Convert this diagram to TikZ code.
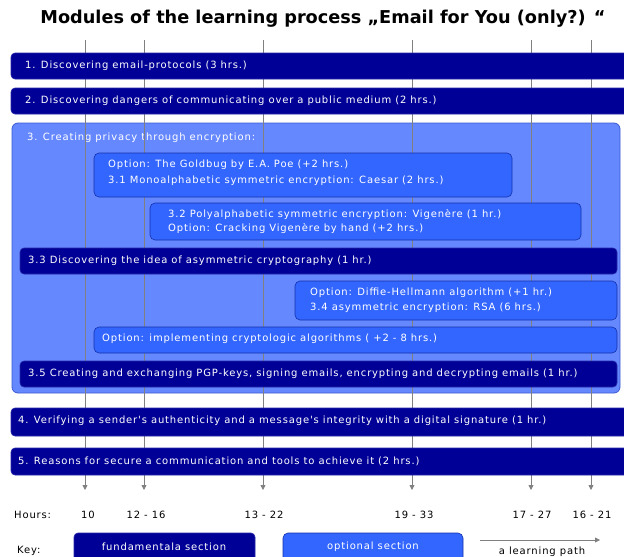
\documentclass[tikz,border=0pt]{standalone}
\usepackage{fontspec}
\setmainfont{DejaVu Sans}
\newfontfamily\bodyfont[LetterSpace=8.5]{DejaVu Sans}
\usetikzlibrary{arrows.meta}
\definecolor{navy}{RGB}{0,0,150}
\definecolor{navyedge}{RGB}{40,40,170}
\definecolor{optfill}{RGB}{51,102,255}
\definecolor{optedge}{RGB}{20,50,170}
\definecolor{lightfill}{RGB}{102,136,255}
\definecolor{lightedge}{RGB}{60,90,210}
\definecolor{pathgray}{RGB}{128,128,128}
\tikzset{
  fundbox/.style={draw=navyedge, fill=navy, rounded corners=4pt, line width=0.6pt},
  optbox/.style={draw=optedge, fill=optfill, rounded corners=5pt, line width=0.6pt},
  bigbox/.style={draw=lightedge, fill=lightfill, rounded corners=6pt, line width=0.8pt},
  wtxt/.style={text=white, anchor=west, inner sep=0pt, font=\bodyfont\fontsize{10}{12}\selectfont},
  btxt/.style={text=black, inner sep=0pt, font=\bodyfont\fontsize{10}{12}\selectfont},
  lpath/.style={draw=pathgray, line width=0.8pt, -{Triangle[width=5pt,length=5pt]}},
}
\begin{document}
\begin{tikzpicture}[x=1pt,y=-1pt]
\useasboundingbox (0,0) rectangle (624,557);
% title
\node[font=\bfseries\fontsize{17.7}{21}\selectfont, inner sep=0pt] (title) at (323,19) {Modules of the learning process „Email for You (only?) “};
% big box 3
\path[bigbox] (12,123) rectangle (620,393);
\node[wtxt] (t3) at (27,138) {3. Creating privacy through encryption:};
% learning paths
\foreach \x [count=\i] in {85,144,263,412,531,591}{
  \coordinate (s\i) at (\x,40);
  \coordinate (e\i) at (\x,490);
  \draw[lpath] (s\i) -- (e\i);
}
% fundamental boxes
\path[fundbox] (11,53) rectangle (628,79);
\node[wtxt] (t1) at (25,66) {1. Discovering email-protocols (3 hrs.)};
\path[fundbox] (11,88) rectangle (628,114);
\node[wtxt] (t2) at (25,101) {2. Discovering dangers of communicating over a public medium (2 hrs.)};
% 3.1
\path[optbox] (94,153) rectangle (512,197);
\node[wtxt] (t31a) at (108,165) {Option: The Goldbug by E.A. Poe (+2 hrs.)};
\node[wtxt] (t31b) at (108,181) {3.1 Monoalphabetic symmetric encryption: Caesar (2 hrs.)};
% 3.2
\path[optbox] (150,203) rectangle (581,240);
\node[wtxt] (t32a) at (168,215) {3.2 Polyalphabetic symmetric encryption: Vigenère (1 hr.)};
\node[wtxt] (t32b) at (168,229) {Option: Cracking Vigenère by hand (+2 hrs.)};
% 3.3
\path[fundbox] (20,248) rectangle (617,274);
\node[wtxt] (t33) at (28,261) {3.3 Discovering the idea of asymmetric cryptography (1 hr.)};
% 3.4
\path[optbox] (295,281) rectangle (617,320);
\node[wtxt] (t34a) at (310,293) {Option: Diffie-Hellmann algorithm (+1 hr.)};
\node[wtxt] (t34b) at (310,308) {3.4 asymmetric encryption: RSA (6 hrs.)};
% implementing
\path[optbox] (94,327) rectangle (617,353);
\node[wtxt] (timp) at (102,339) {Option: implementing cryptologic algorithms ( +2 - 8 hrs.)};
% 3.5
\path[fundbox] (20,361) rectangle (617,387);
\node[wtxt] (t35) at (28,374) {3.5 Creating and exchanging PGP-keys, signing emails, encrypting and decrypting emails (1 hr.)};
% 4 and 5
\path[fundbox] (11,408) rectangle (628,436);
\node[wtxt] (t4) at (18,421) {4. Verifying a sender's authenticity and a message's integrity with a digital signature (1 hr.)};
\path[fundbox] (11,448) rectangle (628,475);
\node[wtxt] (t5) at (18,461) {5. Reasons for secure a communication and tools to achieve it (2 hrs.)};
% hours
\node[btxt, anchor=west] (hrs) at (14,515) {Hours:};
\node[btxt] (h1) at (88,515) {10};
\node[btxt] (h2) at (146,515) {12 - 16};
\node[btxt] (h3) at (264,515) {13 - 22};
\node[btxt] (h4) at (414,515) {19 - 33};
\node[btxt] (h5) at (532,515) {17 - 27};
\node[btxt] (h6) at (592,515) {16 - 21};
% key
\node[btxt, anchor=west] (key) at (17,551) {Key:};
\path[fundbox] (74,533) rectangle (255,570);
\node[btxt, text=white] (kf) at (164,547) {fundamentala section};
\path[optbox] (283,533) rectangle (463,570);
\node[btxt, text=white] (ko) at (373,547) {optional section};
\coordinate (ka) at (480,540);
\coordinate (kb) at (600,540);
\draw[lpath] (ka) -- (kb);
\node[btxt] (kl) at (542,552) {a learning path};
\end{tikzpicture}
\end{document}
